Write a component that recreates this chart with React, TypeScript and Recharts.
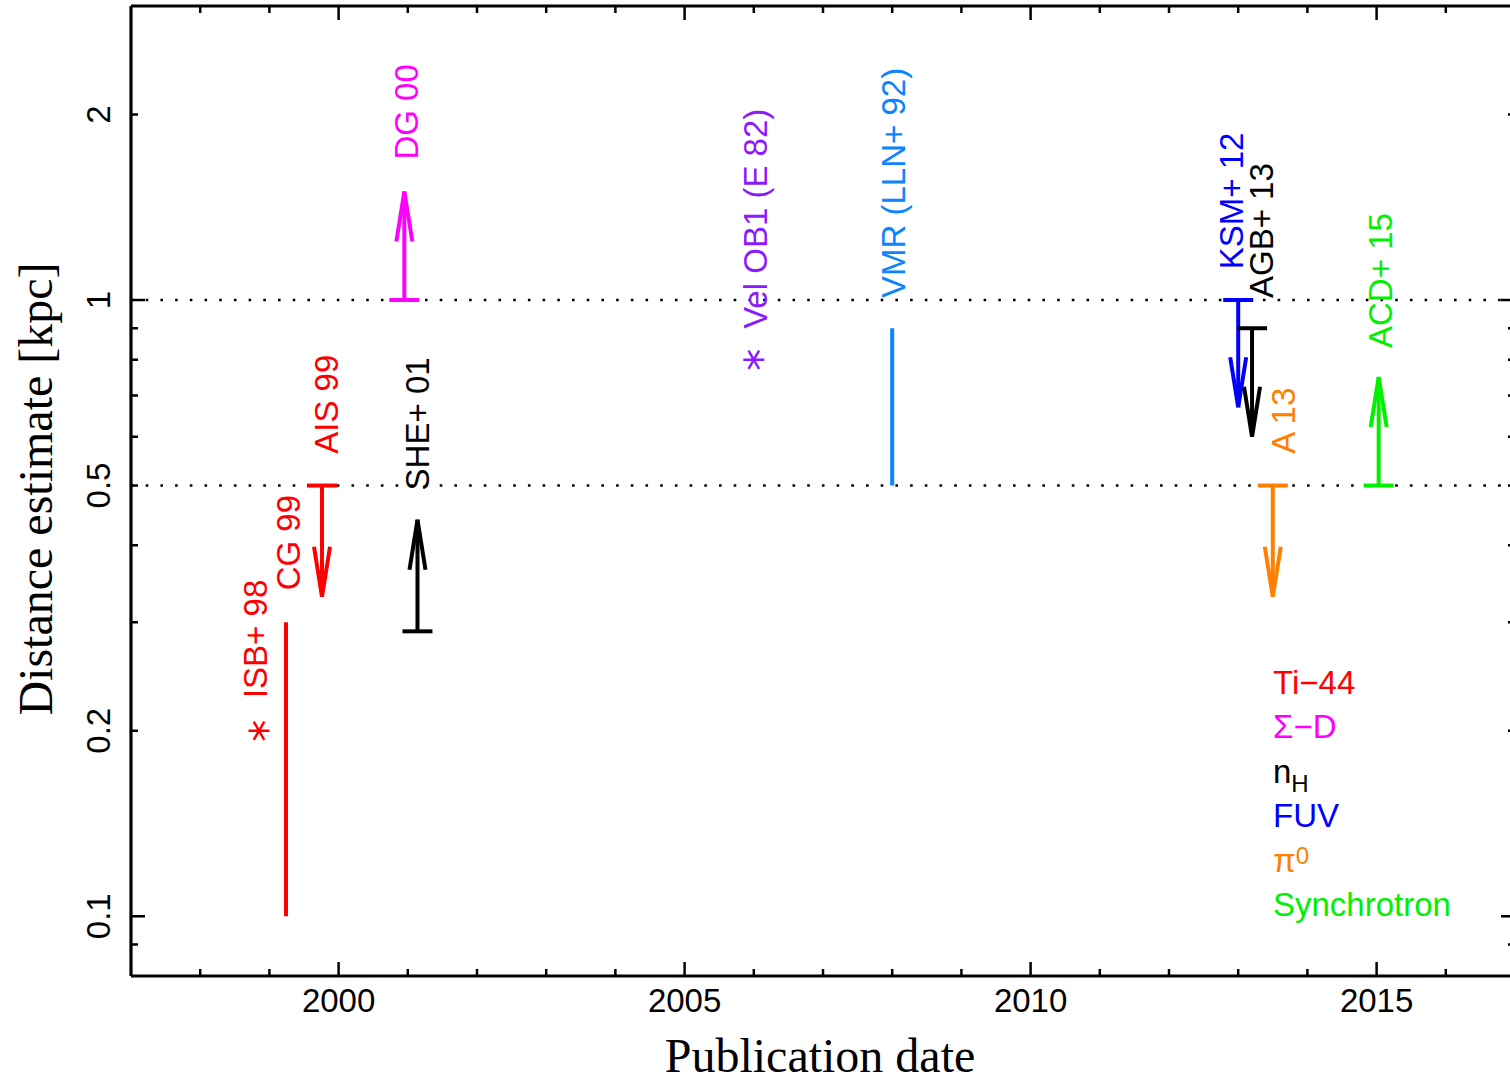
import React from "react";
import { ComposedChart, XAxis, YAxis, Scatter, ReferenceLine, Legend } from "recharts";

const SANS = "'Liberation Sans', Arial, Helvetica, sans-serif";
const SERIF = "'Liberation Serif', 'Times New Roman', Times, serif";

// ---- data ----
const refNames = ["ISB+ 98", "CG 99", "AIS 99", "DG 00", "SHE+ 01", "Vel OB1 (E 82)", "VMR (LLN+ 92)", "KSM+ 12", "AGB+ 13", "A 13", "ACD+ 15"];
const refYears = [1998.85, 1999.24, 1999.76, 2000.95, 2001.14, 2006.0, 2008.0, 2013.0, 2013.2, 2013.5, 2015.03];
const refKinds = ["point", "range", "upper", "lower", "lower", "point", "range", "upper", "upper", "upper", "lower"];
const refMethods = ["Ti-44", "Ti-44", "Ti-44", "Sigma-D", "nH", "VelOB1", "VMR", "FUV", "nH", "pi0", "Synchrotron"];
const baseValues = [0.2, 0.1, 0.5, 1.0, 0.29, 0.8, 0.5, 1.0, 0.9, 0.5, 0.5];
const endValues = [0.2, 0.3, 0.33, 1.5, 0.44, 0.8, 0.9, 0.67, 0.6, 0.33, 0.75];
const labelYears = [1998.8, 1999.27, 1999.82, 2000.98, 2001.14, 2006.02, 2008.02, 2012.9, 2013.34, 2013.65, 2015.06];
const labelValues = [0.226, 0.338, 0.563, 1.69, 0.491, 0.898, 1.0075, 1.122, 1.0075, 0.563, 0.836];

const methodKeys = ["Ti-44", "Sigma-D", "nH", "FUV", "pi0", "Synchrotron", "VelOB1", "VMR"];
const methodColors = ["#ff0000", "#ff00ff", "#000000", "#0000ff", "#ff8000", "#00f000", "#8c1aff", "#0a84ff"];
const legendKeys = ["Ti-44", "Sigma-D", "nH", "FUV", "pi0", "Synchrotron"];

const xTicks = [1998, 1999, 2000, 2001, 2002, 2003, 2004, 2005, 2006, 2007, 2008, 2009, 2010, 2011, 2012, 2013, 2014, 2015, 2016];
const xMajor = [2000, 2005, 2010, 2015];
const yTicks = [0.09, 0.1, 0.2, 0.3, 0.4, 0.5, 0.6, 0.7, 0.8, 0.9, 1, 2];
const yMajor = [0.1, 1];
const yLabeled = [0.1, 0.2, 0.5, 1, 2];

const colorOf = (m: string) => methodColors[methodKeys.indexOf(m)];

const series = refNames.map((name, i) => {
  const color = colorOf(refMethods[i]);
  const kind = refKinds[i];
  let pts: any[];
  if (kind === "point") {
    pts = [{ x: refYears[i], y: baseValues[i], role: "star", color }];
  } else if (kind === "range") {
    pts = [
      { x: refYears[i], y: baseValues[i], role: "none", color },
      { x: refYears[i], y: endValues[i], role: "none", color },
    ];
  } else {
    pts = [
      { x: refYears[i], y: baseValues[i], role: "cap", color },
      { x: refYears[i], y: endValues[i], role: kind === "upper" ? "down" : "up", color },
    ];
  }
  return { name, color, kind, pts };
});

const labelData = refNames.map((name, i) => ({
  x: labelYears[i],
  y: labelValues[i],
  text: name,
  color: colorOf(refMethods[i]),
}));

// ---- layout constants ----
const MARGIN_TOP = 5;
const TOP_AXIS_H = 1;
const BOTTOM_AXIS_H = 110;
const CHART_H = 1086;
const PLOT_H = CHART_H - MARGIN_TOP - TOP_AXIS_H - BOTTOM_AXIS_H;

// ---- shapes ----
const markShape = (props: any) => {
  const { cx, cy, payload } = props;
  const c = payload.color;
  const sw = 4;
  if (payload.role === "cap") {
    return <path d={`M${cx - 15},${cy}L${cx + 15},${cy}`} stroke={c} strokeWidth={sw} fill="none" />;
  }
  if (payload.role === "down") {
    return (
      <path d={`M${cx - 8},${cy - 50}L${cx},${cy}L${cx + 8},${cy - 50}`} stroke={c} strokeWidth={sw} fill="none" strokeLinejoin="miter" />
    );
  }
  if (payload.role === "up") {
    return (
      <path d={`M${cx - 8},${cy + 50}L${cx},${cy}L${cx + 8},${cy + 50}`} stroke={c} strokeWidth={sw} fill="none" strokeLinejoin="miter" />
    );
  }
  if (payload.role === "star") {
    const r = 10.5;
    const dx = r * 0.5;
    const dy = r * 0.866;
    return (
      <path
        d={`M${cx - r},${cy}L${cx + r},${cy}M${cx - dx},${cy - dy}L${cx + dx},${cy + dy}M${cx + dx},${cy - dy}L${cx - dx},${cy + dy}`}
        stroke={c}
        strokeWidth={2.4}
        fill="none"
      />
    );
  }
  return <g />;
};

const labelShape = (props: any) => {
  const { cx, cy, payload } = props;
  return (
    <text
      x={cx}
      y={cy}
      transform={`rotate(-90 ${cx} ${cy})`}
      textAnchor="start"
      dominantBaseline="central"
      fontSize={33}
      fontFamily={SANS}
      fill={payload.color}
    >
      {payload.text}
    </text>
  );
};

// ---- ticks ----
// bottom axis draws its own inward ticks and, mirrored, the inward ticks on the top frame edge
const bottomTick = (props: any) => {
  const { x, y, payload } = props;
  const v = payload.value;
  const major = xMajor.includes(v);
  const len = major ? 14 : 7;
  const topY = y - PLOT_H;
  return (
    <g>
      <line x1={x} y1={y} x2={x} y2={y - len} stroke="#000" strokeWidth={2.5} />
      <line x1={x} y1={topY} x2={x} y2={topY + len} stroke="#000" strokeWidth={2.5} />
      {major && (
        <text x={x} y={y + 36} textAnchor="middle" fontSize={33} fontFamily={SANS} fill="#000">
          {String(v)}
        </text>
      )}
    </g>
  );
};

const leftTick = (props: any) => {
  const { x, y, payload } = props;
  const v = payload.value;
  const major = yMajor.includes(v);
  const lab = yLabeled.includes(v);
  const tx = x - 21;
  return (
    <g>
      <line x1={x} y1={y} x2={x + (major ? 14 : 7)} y2={y} stroke="#000" strokeWidth={2.5} />
      {lab && (
        <text x={tx} y={y} transform={`rotate(-90 ${tx} ${y})`} textAnchor="middle" fontSize={33} fontFamily={SANS} fill="#000">
          {String(v)}
        </text>
      )}
    </g>
  );
};

const rightTick = (props: any) => {
  const { x, y, payload } = props;
  const major = yMajor.includes(payload.value);
  return <line x1={x} y1={y} x2={x - (major ? 14 : 7)} y2={y} stroke="#000" strokeWidth={2.5} />;
};

const legendText = (k: string) => {
  if (k === "Ti-44") return <>Ti−44</>;
  if (k === "Sigma-D") return <>Σ−D</>;
  if (k === "nH")
    return (
      <>
        n<span style={{ fontSize: 24, position: "relative", top: 9 }}>H</span>
      </>
    );
  if (k === "FUV") return <>FUV</>;
  if (k === "pi0")
    return (
      <>
        π<span style={{ fontSize: 24, position: "relative", top: -8 }}>0</span>
      </>
    );
  return <>Synchrotron</>;
};

const renderLegend = () => (
  <div style={{ fontFamily: SANS, fontSize: 33, lineHeight: "44.4px" }}>
    {legendKeys.map((k) => (
      <div key={k} style={{ color: colorOf(k), height: 44.4, whiteSpace: "nowrap" }}>
        {legendText(k)}
      </div>
    ))}
  </div>
);

const yTitle = (props: any) => {
  const vb = props.viewBox;
  const cx = vb.x + 52;
  const cy = vb.y + vb.height / 2 - 2;
  return (
    <text x={cx} y={cy} transform={`rotate(-90 ${cx} ${cy})`} textAnchor="middle" fontSize={48} fontFamily={SERIF} fill="#000">
      Distance estimate [kpc]
    </text>
  );
};

const xTitle = (props: any) => {
  const vb = props.viewBox;
  return (
    <text x={vb.x + vb.width / 2 - 3} y={vb.y + 96} textAnchor="middle" fontSize={48} fontFamily={SERIF} fill="#000">
      Publication date
    </text>
  );
};

const AXIS_LINE = { stroke: "#000", strokeWidth: 3.2 };

export default function App() {
  return (
    <div style={{ position: "absolute", left: 0, top: 0, width: 1510, height: 1086, overflow: "hidden", background: "#fff" }}>
      <ComposedChart width={1520} height={CHART_H} margin={{ top: MARGIN_TOP, right: 4, bottom: 0, left: 0 }}>
        <XAxis
          xAxisId={0}
          dataKey="x"
          type="number"
          domain={[1997, 2017]}
          allowDataOverflow
          ticks={xTicks}
          interval={0}
          height={BOTTOM_AXIS_H}
          tickSize={0}
          tickMargin={0}
          tickLine={false}
          axisLine={AXIS_LINE}
          tick={bottomTick}
          label={xTitle}
        />
        <XAxis
          xAxisId="top"
          orientation="top"
          type="number"
          domain={[1997, 2017]}
          allowDataOverflow
          height={TOP_AXIS_H}
          tickLine={false}
          tick={false}
          axisLine={AXIS_LINE}
        />
        <YAxis
          yAxisId={0}
          dataKey="y"
          type="number"
          scale="log"
          domain={[0.08, 3]}
          allowDataOverflow
          ticks={yTicks}
          interval={0}
          width={131}
          tickSize={0}
          tickMargin={0}
          tickLine={false}
          axisLine={AXIS_LINE}
          tick={leftTick}
          label={yTitle}
        />
        <YAxis
          yAxisId="right"
          orientation="right"
          type="number"
          scale="log"
          domain={[0.08, 3]}
          allowDataOverflow
          ticks={yTicks}
          interval={0}
          width={1}
          tickSize={0}
          tickMargin={0}
          tickLine={false}
          axisLine={AXIS_LINE}
          tick={rightTick}
        />
        <ReferenceLine y={1} stroke="#000" strokeWidth={2.6} strokeDasharray="2.6 12.1" />
        <ReferenceLine y={0.5} stroke="#000" strokeWidth={2.6} strokeDasharray="2.6 12.1" />
        {series.map((s) => (
          <Scatter
            key={s.name}
            name={s.name}
            data={s.pts}
            fill={s.color}
            stroke={s.color}
            line={s.kind === "point" ? false : { stroke: s.color, strokeWidth: 4 }}
            shape={markShape}
            isAnimationActive={false}
            legendType="none"
          />
        ))}
        <Scatter name="labels" data={labelData} shape={labelShape} isAnimationActive={false} legendType="none" />
        <Legend
          layout="vertical"
          align="center"
          verticalAlign="middle"
          content={renderLegend}
          wrapperStyle={{ position: "absolute", left: 1273, top: 661, width: 240 }}
        />
      </ComposedChart>
    </div>
  );
}
